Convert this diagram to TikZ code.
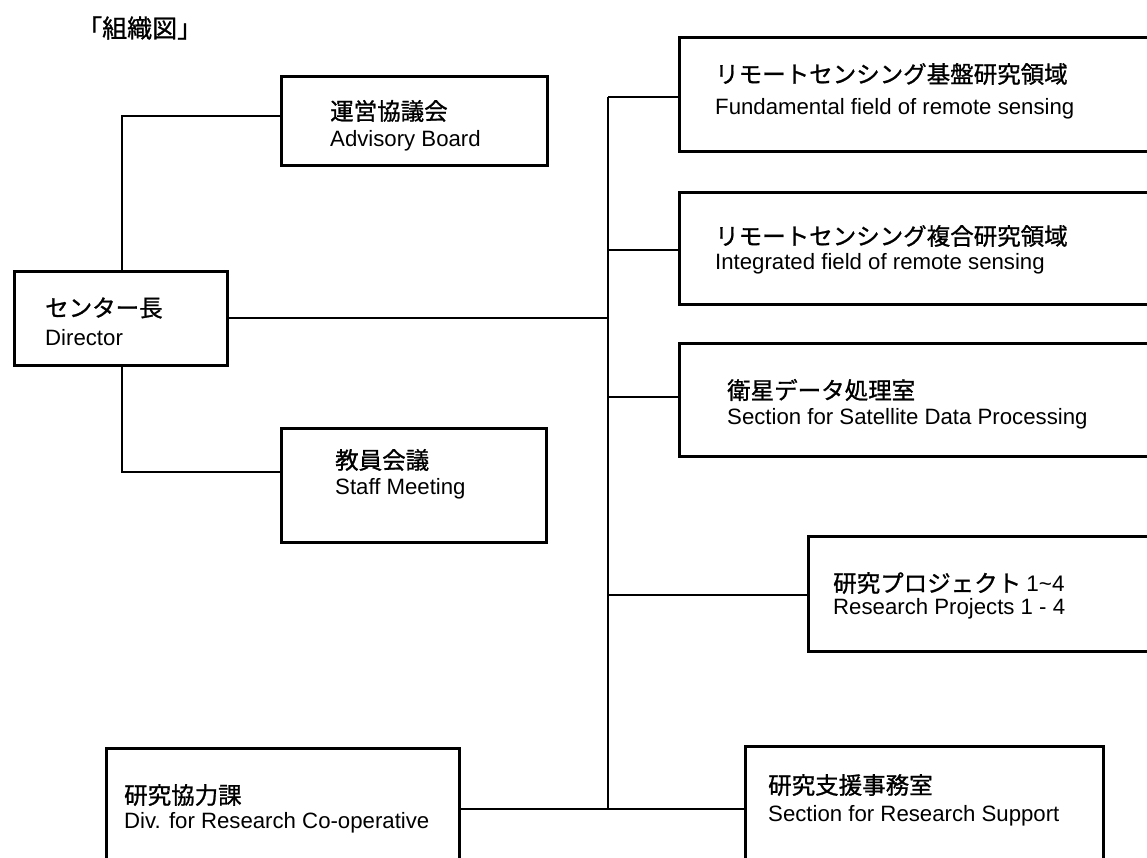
\documentclass[tikz,border=0pt]{standalone}
\usepackage{fontspec}
\setmainfont{Noto Sans CJK JP}
\newfontfamily\jpmed[FakeBold=1]{Noto Sans CJK JP}
\newfontfamily\enfont{Liberation Sans}
\usetikzlibrary{calc}
\begin{document}
\begin{tikzpicture}[x=1pt,y=-1pt,
  box/.style={draw, line width=2.6pt, inner sep=0pt, anchor=north west},
  jptxt/.style={anchor=west, inner sep=0pt, font=\jpmed\fontsize{23.5}{28}\selectfont},
  entxt/.style={anchor=base west, inner sep=0pt, font=\enfont\fontsize{22.2}{26}\selectfont},
  ttl/.style={anchor=west, inner sep=0pt, font=\jpmed\fontsize{25}{30}\selectfont},
  conn/.style={line width=1.8pt},
  ]
\useasboundingbox (0,0) rectangle (1147,858);
\fill[white] (0,0) rectangle (1147,858);
\clip (0,0) rectangle (1147,858);

% title
\node[ttl] (title) at (77,28) {「組織図」};

% boxes
\node[box, minimum width=266, minimum height=89]  (adv)   at (280,75)  {};
\node[box, minimum width=213, minimum height=94]  (dir)   at (13,270)  {};
\node[box, minimum width=265, minimum height=114] (staff) at (280,427) {};
\node[box, minimum width=490, minimum height=114] (b1)    at (678,36)  {};
\node[box, minimum width=490, minimum height=112] (b2)    at (678,191) {};
\node[box, minimum width=490, minimum height=113] (b3)    at (678,342) {};
\node[box, minimum width=360, minimum height=115] (b4)    at (807,535) {};
\node[box, minimum width=358, minimum height=124] (b5)    at (744,745) {};
\node[box, minimum width=353, minimum height=122] (coop)  at (105,747) {};

% texts
\node[jptxt] (advj) at (330,111) {運営協議会};
\node[entxt] (adve) at (330,147) {Advisory Board};
\node[jptxt] (dirj) at (45,308) {センター長};
\node[entxt] (dire) at (45,345) {Director};
\node[jptxt] (staffj) at (335,460) {教員会議};
\node[entxt] (staffe) at (335,494) {Staff Meeting};
\node[jptxt] (b1j) at (715,74) {リモートセンシング基盤研究領域};
\node[entxt] (b1e) at (715,115) {Fundamental field of remote sensing};
\node[jptxt] (b2j) at (715,236) {リモートセンシング複合研究領域};
\node[entxt] (b2e) at (715,270) {Integrated field of remote sensing};
\node[jptxt] (b3j) at (727,390) {衛星データ処理室};
\node[entxt] (b3e) at (727,424) {Section for Satellite Data Processing};
\node[jptxt] (b4j) at (833,583) {研究プロジェクト {\enfont\fontsize{22.5}{26}\selectfont 1\textasciitilde4}};
\node[entxt] (b4e) at (833,614) {Research Projects 1 - 4};
\node[jptxt] (b5j) at (768,785) {研究支援事務室};
\node[entxt] (b5e) at (768,821) {Section for Research Support};
\node[jptxt] (coopj) at (124,795) {研究協力課};
\node[entxt] (coope) at (124,828) {Div. for Research Co-operative};

% connector coordinates
\coordinate (vx) at (122,0);
\coordinate (mx) at (608,0);
\coordinate (p1) at ($(b1.north west)+(0,61)$);
\coordinate (p2) at ($(b2.north west)+(0,59)$);
\coordinate (p3) at ($(b3.north west)+(0,55)$);
\coordinate (p4) at ($(b4.north west)+(0,60)$);
\coordinate (pa) at ($(adv.north west)+(0,41)$);
\coordinate (ps) at ($(staff.north west)+(0,45)$);

% left tree
\draw[conn] (dir.north -| vx) |- (pa);
\draw[conn] (dir.south -| vx) |- (ps);
% director to main line
\draw[conn] (dir.east) -- (dir.east -| mx);
% main vertical line
\draw[conn] (p1 -| mx) -- (coop.east -| mx);
\draw[conn] (p1 -| mx) -- (p1);
\draw[conn] (p2 -| mx) -- (p2);
\draw[conn] (p3 -| mx) -- (p3);
\draw[conn] (p4 -| mx) -- (p4);
% bottom line
\draw[conn, line width=2.2pt] (coop.east) -- (coop.east -| b5.west);
\end{tikzpicture}
\end{document}
